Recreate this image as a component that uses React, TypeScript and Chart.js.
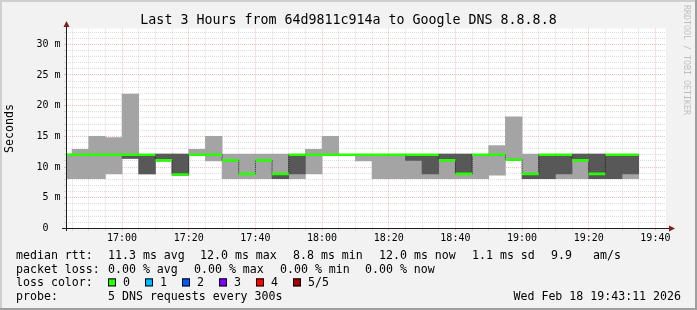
import React, { useEffect, useRef } from "react";
import { Chart, registerables } from "chart.js";

Chart.register(...registerables);

const W = 697;
const H = 310;

// time axis in minutes after 16:00
const VIEW_START = 43.183; // 16:43:11
const VIEW_END = 223.183; // 19:43:11
const STEP = 5;

const stepStart = [40, 45, 50, 55, 60, 65, 70, 75, 80, 85, 90, 95, 100, 105, 110, 115, 120, 125, 130, 135, 140, 145, 150, 155, 160, 165, 170, 175, 180, 185, 190, 195, 200, 205, 210];

// five sorted pings per step (ms): min, 2nd, median, 4th, max
const pingMin = [8.1, 8.1, 8.1, 8.9, 11.4, 8.9, 11.0, 8.7, 12.0, 11.0, 8.1, 8.1, 8.1, 8.1, 8.1, 8.9, 12.0, 12.0, 11.0, 8.1, 8.1, 8.1, 8.1, 8.1, 8.1, 8.1, 8.7, 11.1, 8.1, 8.1, 8.1, 8.1, 8.1, 8.1, 8.1];
const ping2 = [12.0, 12.0, 12.0, 12.0, 11.4, 8.9, 11.0, 8.7, 12.0, 12.0, 11.1, 8.9, 11.1, 8.1, 8.9, 12.0, 12.0, 12.0, 12.0, 12.0, 12.0, 11.1, 8.9, 11.1, 8.9, 12.0, 12.0, 11.2, 8.1, 8.1, 8.9, 11.1, 8.1, 8.1, 8.9];
const median = [12.0, 12.0, 12.0, 12.0, 12.0, 12.0, 11.1, 8.8, 12.0, 12.0, 11.1, 8.9, 11.1, 8.9, 12.0, 12.0, 12.0, 12.0, 12.0, 12.0, 12.0, 12.0, 12.0, 11.1, 8.9, 12.0, 12.0, 11.2, 8.9, 12.0, 12.0, 11.1, 8.9, 12.0, 12.0];
const ping4 = [12.0, 12.0, 12.0, 12.0, 12.0, 12.0, 12.1, 12.1, 12.0, 12.0, 11.1, 8.9, 11.1, 8.9, 12.0, 12.0, 12.0, 12.0, 12.0, 12.0, 12.0, 12.0, 12.0, 12.1, 12.1, 12.0, 12.0, 11.2, 8.9, 12.0, 12.0, 12.1, 12.1, 12.0, 12.0];
const pingMax = [12.1, 12.9, 15.0, 14.8, 21.9, 12.0, 12.1, 12.1, 12.9, 15.0, 12.1, 12.1, 12.1, 12.1, 12.0, 12.9, 15.0, 12.0, 12.0, 12.0, 12.0, 12.0, 12.0, 12.1, 12.1, 12.0, 13.5, 18.2, 12.1, 12.0, 12.0, 12.1, 12.1, 12.0, 12.0];

const xTickValues = [45, 50, 55, 60, 65, 70, 75, 80, 85, 90, 95, 100, 105, 110, 115, 120, 125, 130, 135, 140, 145, 150, 155, 160, 165, 170, 175, 180, 185, 190, 195, 200, 205, 210, 215, 220];
const xMajorValues = [60, 80, 100, 120, 140, 160, 180, 200, 220];
const xMajorLabels = ["17:00", "17:20", "17:40", "18:00", "18:20", "18:40", "19:00", "19:20", "19:40"];

const yTickValues = [0, 1, 2, 3, 4, 5, 6, 7, 8, 9, 10, 11, 12, 13, 14, 15, 16, 17, 18, 19, 20, 21, 22, 23, 24, 25, 26, 27, 28, 29, 30, 31, 32];
const yMajorValues = [0, 5, 10, 15, 20, 25, 30];
const yMajorLabels = ["0  ", "5 m", "10 m", "15 m", "20 m", "25 m", "30 m"];
const Y_MAX = 32.57;

const TITLE = "Last 3 Hours from 64d9811c914a to Google DNS 8.8.8.8";
const Y_TITLE = "Seconds";
const WATERMARK = "RRDTOOL / TOBI OETIKER";
const rttHead = "median rtt:";
const rttStats = ["11.3 ms avg", "12.0 ms max", "8.8 ms min", "12.0 ms now", "1.1 ms sd", "9.9", "am/s"];
const lossHead = "packet loss:";
const lossStats = ["0.00 % avg", "0.00 % max", "0.00 % min", "0.00 % now"];
const colorHead = "loss color:";
const lossLabels = ["0", "1", "2", "3", "4", "5/5"];
const lossColors = ["#26ff00", "#00b8ff", "#0059ff", "#7e00ff", "#ff0000", "#a00000"];
const probeHead = "probe:";
const probeText = "5 DNS requests every 300s";
const stamp = "Wed Feb 18 19:43:11 2026";

const MONO = '"DejaVu Sans Mono", monospace';
const GRID_MINOR = "rgba(143,143,143,0.30)";
const GRID_MAJOR = "rgba(222,79,79,0.36)";
const MEDIAN_HALF = 0.21; // half thickness of the median stroke, in ms

const rrdPlugin = {
  id: "rrdFrame",
  beforeDraw(chart: any) {
    const { ctx, chartArea: a } = chart;
    ctx.save();
    ctx.fillStyle = "#f2f2f2";
    ctx.fillRect(0, 0, W, H);
    ctx.fillStyle = "#cfcfcf";
    ctx.fillRect(0, 0, W, 2);
    ctx.fillRect(0, 0, 2, H);
    ctx.fillStyle = "#9e9e9e";
    ctx.fillRect(0, H - 2, W, 2);
    ctx.fillRect(W - 2, 0, 2, H);
    ctx.fillStyle = "#ffffff";
    ctx.fillRect(a.left, a.top, a.right - a.left, a.bottom - a.top);
    ctx.restore();
  },
  afterDraw(chart: any) {
    const { ctx, chartArea: a } = chart;
    ctx.save();
    // axes
    ctx.fillStyle = "#1f1f1f";
    ctx.fillRect(Math.round(a.left), 26, 1, 231 - 26);
    ctx.fillRect(62, Math.floor(a.bottom), 669 - 62, 1);
    // arrows
    ctx.fillStyle = "#801f1f";
    const ax = Math.round(a.left) + 0.5;
    ctx.beginPath();
    ctx.moveTo(ax, 21);
    ctx.lineTo(ax + 3, 27);
    ctx.lineTo(ax - 3, 27);
    ctx.closePath();
    ctx.fill();
    const ay = Math.floor(a.bottom) + 0.5;
    ctx.beginPath();
    ctx.moveTo(675, ay);
    ctx.lineTo(669, ay - 3);
    ctx.lineTo(669, ay + 3);
    ctx.closePath();
    ctx.fill();

    // title
    ctx.fillStyle = "#000";
    ctx.font = `13.3px ${MONO}`;
    ctx.textAlign = "center";
    ctx.textBaseline = "alphabetic";
    ctx.fillText(TITLE, W / 2, 24);

    // y title
    ctx.font = `11.6px ${MONO}`;
    ctx.save();
    ctx.translate(10, (a.top + a.bottom) / 2);
    ctx.rotate(-Math.PI / 2);
    ctx.textBaseline = "middle";
    ctx.fillText(Y_TITLE, 0, 0);
    ctx.restore();

    // watermark
    ctx.save();
    ctx.fillStyle = "rgba(0,0,0,0.22)";
    ctx.font = `8.3px ${MONO}`;
    ctx.translate(686, 5);
    ctx.rotate(Math.PI / 2);
    ctx.textAlign = "left";
    ctx.textBaseline = "middle";
    ctx.fillText(WATERMARK, 0, 0);
    ctx.restore();

    // legend
    ctx.font = `11.6px ${MONO}`;
    ctx.textAlign = "left";
    ctx.textBaseline = "alphabetic";
    ctx.fillStyle = "#000";
    const b1 = 259, b2 = 272.7, b3 = 286.4, b4 = 300.1;
    ctx.fillText(rttHead, 16, b1);
    const rttX = [108, 200, 293, 379, 472, 551, 593];
    rttStats.forEach((s, i) => ctx.fillText(s, rttX[i], b1));
    ctx.fillText(lossHead, 16, b2);
    const lossX = [108, 194, 280, 365];
    lossStats.forEach((s, i) => ctx.fillText(s, lossX[i], b2));
    ctx.fillText(colorHead, 16, b3);
    const boxX = [108, 145, 182, 219, 256, 293];
    lossLabels.forEach((s, i) => {
      ctx.fillStyle = lossColors[i];
      ctx.fillRect(boxX[i], b3 - 8, 8, 8);
      ctx.strokeStyle = "#000";
      ctx.lineWidth = 1;
      ctx.strokeRect(boxX[i] + 0.5, b3 - 7.5, 7, 7);
      ctx.fillStyle = "#000";
      ctx.fillText(s, boxX[i] + 15, b3);
    });
    ctx.fillText(probeHead, 16, b4);
    ctx.fillText(probeText, 108, b4);
    ctx.textAlign = "right";
    ctx.fillText(stamp, 681, b4);
    ctx.restore();
  },
};

export default function App() {
  const ref = useRef<HTMLCanvasElement>(null);

  useEffect(() => {
    const canvas = ref.current;
    if (!canvas) return;

    const lightSmoke = stepStart.map((s, i) => ({ x: s + STEP / 2, y: [pingMin[i], pingMax[i]] }));
    const darkSmoke = stepStart.map((s, i) => ({ x: s + STEP / 2, y: [ping2[i], ping4[i]] }));
    const medianBars = stepStart.map((s, i) => ({ x: s + STEP / 2, y: [median[i] - MEDIAN_HALF, median[i] + MEDIAN_HALF] }));
    // vertical connectors between consecutive medians
    const connectors: any[] = [];
    for (let i = 1; i < stepStart.length; i++) {
      if (median[i] === median[i - 1]) continue;
      connectors.push({ x: stepStart[i], y: median[i - 1] });
      connectors.push({ x: stepStart[i], y: median[i] });
      connectors.push({ x: stepStart[i], y: null });
    }

    const isXMajor = (v: number) => xMajorValues.indexOf(v) >= 0;
    const isYMajor = (v: number) => yMajorValues.indexOf(v) >= 0;

    const barBase = {
      type: "bar",
      borderWidth: 0,
      grouped: false,
      barPercentage: 1,
      categoryPercentage: 1,
      clip: 0,
    };

    const chart = new Chart(canvas, {
      type: "bar",
      data: {
        datasets: [
          { ...barBase, data: lightSmoke, backgroundColor: "#a4a4a4", order: 4 } as any,
          { ...barBase, data: darkSmoke, backgroundColor: "#585858", order: 3 } as any,
          {
            type: "line",
            data: connectors as any,
            borderColor: "#1f1f1f",
            borderWidth: 1,
            borderDash: [1, 1],
            pointRadius: 0,
            fill: false,
            spanGaps: false,
            order: 2,
            clip: 0,
          } as any,
          { ...barBase, data: medianBars, backgroundColor: "#26ff00", inflateAmount: 0, order: 1 } as any,
        ],
      },
      options: {
        animation: false,
        responsive: false,
        devicePixelRatio: 1,
        events: [],
        layout: { padding: { left: 0, top: 28.5, right: 31, bottom: 0 } },
        plugins: { legend: { display: false }, tooltip: { enabled: false }, title: { display: false } },
        scales: {
          x: {
            type: "linear",
            min: VIEW_START,
            max: VIEW_END,
            offset: false,
            afterBuildTicks: (scale: any) => {
              scale.ticks = xTickValues.map((v) => ({ value: v }));
            },
            afterFit: (scale: any) => {
              scale.height = 81.5;
            },
            ticks: {
              autoSkip: false,
              maxRotation: 0,
              padding: 2,
              color: "#000",
              font: { family: MONO, size: 10 },
              callback: (v: any) => {
                const i = xMajorValues.indexOf(Number(v));
                return i >= 0 ? xMajorLabels[i] : "";
              },
            },
            grid: {
              offset: false,
              drawTicks: true,
              tickLength: 2,
              lineWidth: 1,
              color: (c: any) => (isXMajor(c.tick?.value) ? GRID_MAJOR : GRID_MINOR),
              tickColor: (c: any) => (isXMajor(c.tick?.value) ? GRID_MAJOR : GRID_MINOR),
            },
            border: { display: false, dash: [1, 1] },
          } as any,
          y: {
            type: "linear",
            min: 0,
            max: Y_MAX,
            afterBuildTicks: (scale: any) => {
              scale.ticks = yTickValues.map((v) => ({ value: v }));
            },
            afterFit: (scale: any) => {
              scale.width = 66;
            },
            ticks: {
              autoSkip: false,
              padding: 3.5,
              color: "#000",
              font: { family: MONO, size: 10 },
              callback: (v: any) => {
                const i = yMajorValues.indexOf(Number(v));
                return i >= 0 ? yMajorLabels[i] : "";
              },
            },
            grid: {
              drawTicks: true,
              tickLength: 2,
              lineWidth: 1,
              color: (c: any) => (isYMajor(c.tick?.value) ? GRID_MAJOR : GRID_MINOR),
              tickColor: (c: any) => (isYMajor(c.tick?.value) ? GRID_MAJOR : GRID_MINOR),
            },
            border: { display: false, dash: [1, 1] },
          } as any,
        },
      } as any,
      plugins: [rrdPlugin],
    });

    return () => chart.destroy();
  }, []);

  return (
    <div style={{ position: "fixed", left: 0, top: 0, width: W, height: H }}>
      <canvas ref={ref} width={W} height={H} style={{ display: "block", width: W, height: H }} />
    </div>
  );
}
